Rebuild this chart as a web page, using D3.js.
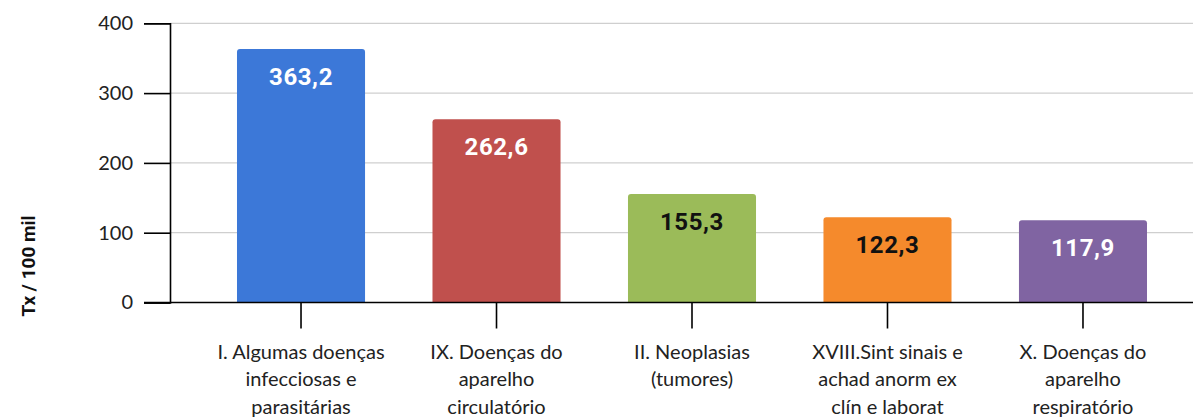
<!DOCTYPE html>
<html><head><meta charset="utf-8">
<script src="https://cdn.jsdelivr.net/npm/d3@7"></script>
<style>body{margin:0;background:#fff}svg{display:block}</style>
</head><body>
<script>
const categories = [
  ["I. Algumas doenças", "infecciosas e", "parasitárias"],
  ["IX. Doenças do", "aparelho", "circulatório"],
  ["II. Neoplasias", "(tumores)"],
  ["XVIII.Sint sinais e", "achad anorm ex", "clín e laborat"],
  ["X. Doenças do", "aparelho", "respiratório"]
];
const values = [363.2, 262.6, 155.3, 122.3, 117.9];
const valueLabels = ["363,2", "262,6", "155,3", "122,3", "117,9"];
const barColors = ["#3c78d8", "#c0504d", "#9bbb59", "#f58a2c", "#8064a2"];
const labelColors = ["#fff", "#fff", "#111", "#111", "#fff"];
const yTicks = [0, 100, 200, 300, 400];
const yTitle = "Tx / 100 mil";

const W = 1193, H = 417;
const svg = d3.select("body").append("svg").attr("width", W).attr("height", H);

const y = d3.scaleLinear().domain([0, 400]).range([302.5, 23.3]);
const x = d3.scaleBand().domain(d3.range(values.length)).range([170, 1214])
  .paddingInner(0.345).paddingOuter(0.3427);

// gridlines
svg.append("g").selectAll("line").data(yTicks.filter(d => d > 0)).join("line")
  .attr("x1", 170).attr("x2", W).attr("y1", d => y(d)).attr("y2", d => y(d))
  .attr("stroke", "#cfcfcf").attr("stroke-width", 1.3);

// bars with rounded tops
const r = 3;
svg.append("g").selectAll("path").data(values).join("path")
  .attr("fill", (d, i) => barColors[i])
  .attr("d", (d, i) => {
    const x0 = x(i), w = x.bandwidth(), y0 = y(d), yb = y(0);
    return `M${x0},${yb}V${y0 + r}Q${x0},${y0} ${x0 + r},${y0}H${x0 + w - r}Q${x0 + w},${y0} ${x0 + w},${y0 + r}V${yb}Z`;
  });

// value labels
svg.append("g").selectAll("text").data(values).join("text")
  .attr("x", (d, i) => x(i) + x.bandwidth() / 2)
  .attr("y", d => y(d) + 36)
  .attr("text-anchor", "middle")
  .attr("font-family", "Roboto, sans-serif").attr("font-weight", "bold")
  .attr("font-size", 24).attr("letter-spacing", 0.6)
  .attr("fill", (d, i) => labelColors[i])
  .text((d, i) => valueLabels[i]);

// y axis
const yAxis = d3.axisLeft(y).tickValues(yTicks).tickSize(26).tickPadding(11).tickFormat(d3.format("d"));
const gy = svg.append("g").attr("transform", "translate(170,0)").call(yAxis);
gy.select(".domain").attr("stroke", "#000").attr("stroke-width", 1.6);
gy.selectAll(".tick line").attr("stroke", "#000").attr("stroke-width", 1.6);
gy.selectAll(".tick text").attr("font-family", "Lato, Carlito, sans-serif").attr("font-size", 20).attr("fill", "#222");

// x axis
const xAxis = d3.axisBottom(x).tickSize(26).tickFormat(() => "");
const gx = svg.append("g").attr("transform", `translate(0,${y(0)})`).call(xAxis);
gx.select(".domain").attr("d", `M144,0H${W}`).attr("stroke", "#000").attr("stroke-width", 1.6);
gx.selectAll(".tick line").attr("stroke", "#000").attr("stroke-width", 1.6);
gx.selectAll(".tick").each(function(d) {
  const t = d3.select(this).append("text")
    .attr("text-anchor", "middle").attr("fill", "#222")
    .attr("font-family", "Lato, Carlito, sans-serif").attr("font-size", 20);
  categories[d].forEach((line, k) => {
    t.append("tspan").attr("x", 0).attr("y", 56 + k * 27.5).text(line);
  });
});

// y title
svg.append("text")
  .attr("transform", "translate(35,266) rotate(-90)")
  .attr("text-anchor", "middle")
  .attr("font-family", "Roboto, sans-serif").attr("font-weight", "bold")
  .attr("font-size", 19).attr("fill", "#111")
  .text(yTitle);
</script>
</body></html>
